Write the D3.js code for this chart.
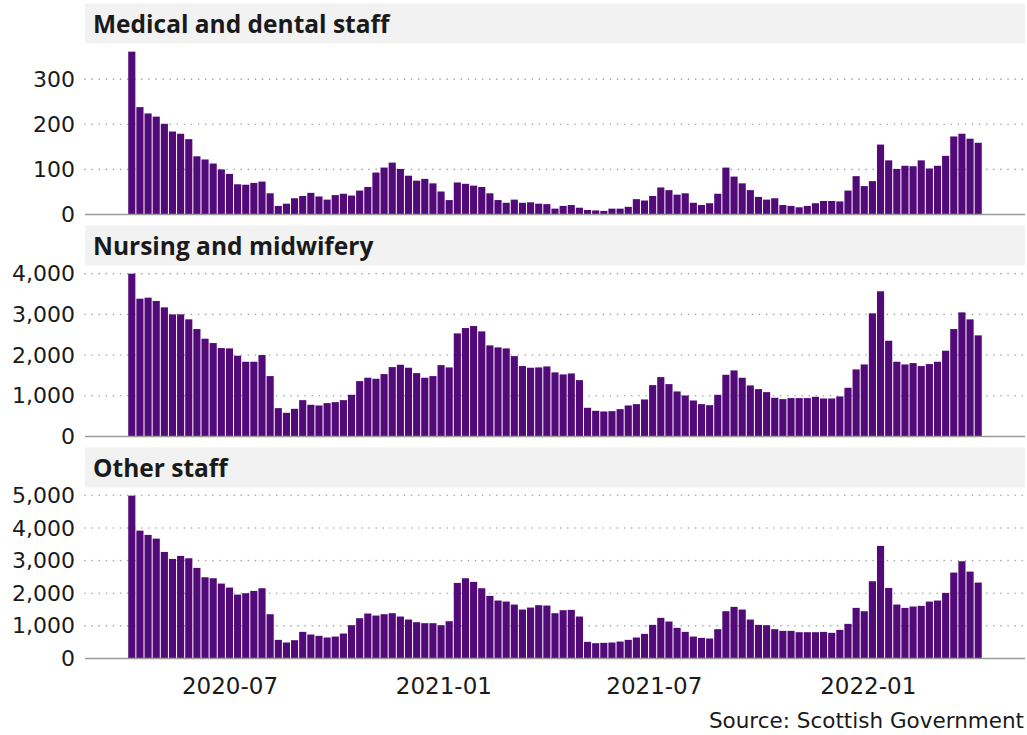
<!DOCTYPE html>
<html>
<head>
<meta charset="utf-8">
<script src="https://cdn.jsdelivr.net/npm/d3@7"></script>
<style>
    body { margin: 0; background: #fff; }
    svg { display: block; }
</style>
</head>
<body>
<div id="chart"></div>
<script>
// weekly series, first week centred on 2020-04-08
const FIRST_WEEK = new Date(2020, 3, 8);
const N_WEEKS = 105;

const panelTitles = ["Medical and dental staff", "Nursing and midwifery", "Other staff"];

const medical = [361,238,224,217,201,184,179,167,129,122,
    113,100,90,67,66,70,73,47,19,24,
    36,41,48,40,33,43,46,42,53,61,
    93,104,115,101,86,75,79,69,51,32,
    71,68,64,61,47,32,26,33,26,27,
    24,23,13,19,21,15,10,9,8,13,
    13,17,34,31,41,60,54,44,47,26,
    21,25,46,104,84,69,54,39,33,36,
    21,19,16,19,25,30,30,29,53,85,
    63,74,155,120,101,108,107,120,102,108,
    130,173,179,168,159];

const nursing = [4000,3385,3410,3328,3172,3000,3000,2877,2639,2402,
    2295,2172,2164,1984,1836,1836,2000,1484,697,582,
    680,893,779,762,820,844,893,1025,1361,1443,
    1418,1533,1705,1762,1689,1557,1443,1484,1754,1697,
    2533,2664,2713,2582,2238,2189,2164,1975,1730,1689,
    1697,1721,1574,1525,1549,1385,705,631,615,623,
    672,762,795,910,1262,1459,1287,1107,1008,885,
    795,770,1025,1516,1623,1443,1254,1164,1090,951,
    918,943,943,943,975,934,934,984,1197,1648,
    1770,3025,3566,2352,1836,1770,1803,1730,1779,1836,
    2107,2639,3049,2877,2484];

const other = [4990,3918,3786,3673,3265,3051,3143,3071,2776,2490,
    2459,2296,2173,1959,2000,2071,2153,1357,571,490,
    561,816,735,694,643,673,765,1020,1235,1378,
    1316,1357,1388,1286,1194,1112,1082,1082,1020,1143,
    2316,2459,2347,2153,1918,1776,1745,1653,1500,1561,
    1633,1622,1388,1480,1490,1286,510,469,480,490,
    520,571,643,755,1031,1245,1133,939,816,673,
    633,612,898,1449,1582,1500,1194,1031,1020,898,
    847,847,806,806,806,816,786,878,1061,1551,
    1449,2367,3449,2163,1653,1551,1592,1612,1745,1776,
    2010,2633,2980,2663,2327];

const yTicks = [[0,100,200,300], [0,1000,2000,3000,4000], [0,1000,2000,3000,4000,5000]];
const xTicks = [new Date(2020,6,1), new Date(2021,0,1), new Date(2021,6,1), new Date(2022,0,1)];

const series = [medical, nursing, other];

const W = 1027, H = 735;
const plotLeft = 85, plotRight = 1025;
const panelStep = 222, firstTop = 3.5, stripH = 40, plotH = 171;
const barColor = "#530a79";
const tickFont = "DejaVu Sans";
const titleFont = "Open Sans";

let weeks = d3.range(N_WEEKS).map(i => d3.timeDay.offset(FIRST_WEEK, 7*i));

let svg = d3.select("#chart").append("svg")
    .attr("width", W).attr("height", H);

// time scale, bars are one week wide, ggplot-like 5% padding both sides
let t0 = d3.timeHour.offset(weeks[0], -84);
let t1 = d3.timeHour.offset(weeks[N_WEEKS-1], 84);
let pad = (t1 - t0) * 0.05;
let x = d3.scaleTime()
    .domain([new Date(+t0 - pad), new Date(+t1 + pad)])
    .range([plotLeft, plotRight]);

let barW = x(d3.timeDay.offset(weeks[0], 7)) - x(weeks[0]);

let _drawPanel = function(i){
    let top = firstTop + i*panelStep;
    let base = top + stripH + plotH;
    let values = series[i];
    let y = d3.scaleLinear()
        .domain([0, d3.max(values)*1.05])
        .range([base, top + stripH]);

    let g = svg.append("g");

    // strip
    g.append("rect")
        .attr("x", plotLeft).attr("y", top)
        .attr("width", plotRight - plotLeft).attr("height", stripH)
        .attr("fill", "#f2f2f2");
    g.append("text")
        .attr("x", 93).attr("y", top + 29)
        .attr("font-family", titleFont).attr("font-weight", 700)
        .attr("font-size", 24.5).attr("fill", "#1a1a1a")
        .text(panelTitles[i]);

    // dotted gridlines
    g.append("g").selectAll("line")
        .data(yTicks[i].filter(d => d > 0))
        .join("line")
        .attr("x1", plotLeft).attr("x2", plotRight)
        .attr("y1", d => y(d)).attr("y2", d => y(d))
        .attr("stroke", "#a6a6a6").attr("stroke-width", 1.6)
        .attr("stroke-linecap", "round")
        .attr("stroke-dasharray", "0.1,7");

    // bars
    g.append("g").selectAll("rect")
        .data(values)
        .join("rect")
        .attr("x", (d, k) => x(weeks[k]) - barW/2 + 0.5)
        .attr("width", barW - 1)
        .attr("y", d => y(d))
        .attr("height", d => base - y(d))
        .attr("fill", barColor);

    // baseline
    g.append("line")
        .attr("x1", plotLeft).attr("x2", plotRight)
        .attr("y1", base).attr("y2", base)
        .attr("stroke", "#9a9a9a").attr("stroke-width", 1.5);

    // y axis labels
    let yAxis = d3.axisLeft(y)
        .tickValues(yTicks[i])
        .tickFormat(d3.format(","))
        .tickSize(0).tickPadding(0);
    let ya = g.append("g")
        .attr("transform", "translate(75,0)")
        .call(yAxis);
    ya.select(".domain").remove();
    ya.selectAll("text")
        .attr("font-family", tickFont).attr("font-size", 22)
        .attr("fill", "#1a1a1a");

    return base;
};

let lastBase = 0;
for(let i = 0; i < series.length; i++){
    lastBase = _drawPanel(i);
}

// x axis under the last panel
let xAxis = d3.axisBottom(x)
    .tickValues(xTicks)
    .tickFormat(d3.timeFormat("%Y-%m"))
    .tickSize(0).tickPadding(19);
let xa = svg.append("g")
    .attr("transform", "translate(0," + lastBase + ")")
    .call(xAxis);
xa.select(".domain").remove();
xa.selectAll("text")
    .attr("font-family", tickFont).attr("font-size", 23)
    .attr("fill", "#1a1a1a");

svg.append("text")
    .attr("x", 1024).attr("y", 728)
    .attr("text-anchor", "end")
    .attr("font-family", tickFont).attr("font-size", 21.5)
    .attr("fill", "#1a1a1a")
    .text("Source: Scottish Government");
</script>
</body>
</html>
